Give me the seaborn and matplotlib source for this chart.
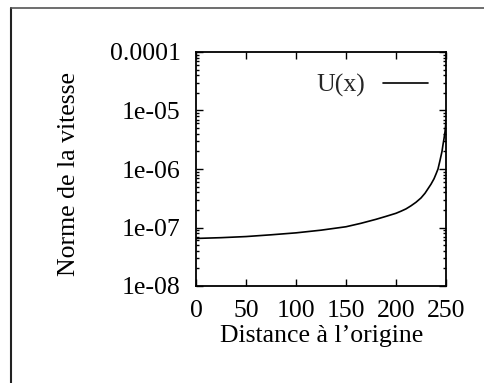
"""Recreate the 'Norme de la vitesse' log-scale profile figure."""

import matplotlib

matplotlib.use("Agg")
import matplotlib.pyplot as plt
import numpy as np
import pandas as pd
import seaborn as sns
from matplotlib.lines import Line2D
from matplotlib.ticker import FixedLocator, FixedFormatter, LogLocator, NullFormatter

# values
distance = [0, 25, 50, 75, 100, 125, 150, 165, 180, 190, 200, 205, 210, 215, 220, 225,
            229, 232, 235, 238, 240, 242, 244, 246, 247, 248, 249, 250]
vitesse = [6.5e-8, 6.7e-8, 7.0e-8, 7.5e-8, 8.1e-8, 9.0e-8, 1.03e-7, 1.18e-7, 1.38e-7,
           1.55e-7, 1.75e-7, 1.9e-7, 2.08e-7, 2.35e-7, 2.7e-7, 3.2e-7, 3.85e-7, 4.6e-7,
           5.5e-7, 6.8e-7, 8.2e-7, 1.0e-6, 1.4e-6, 2.0e-6, 2.6e-6, 3.3e-6, 4.3e-6, 6.5e-6]
x_ticks = [0, 50, 100, 150, 200, 250]
y_ticks = [1e-8, 1e-7, 1e-6, 1e-5, 1e-4]
y_tick_labels = ["1e-08", "1e-07", "1e-06", "1e-05", "0.0001"]
series_label = "U(x)"

sns.set_theme(style="ticks")
plt.rcParams["font.family"] = ["Liberation Serif", "DejaVu Serif"]

df = pd.DataFrame({"distance": distance, "vitesse": vitesse})

fig = plt.figure(figsize=(4.85, 3.83), dpi=100)
ax = fig.add_axes([196 / 485, 1 - 286 / 383, 250 / 485, 234 / 383])

sns.lineplot(data=df, x="distance", y="vitesse", ax=ax, color="black",
             linewidth=1.2, label=series_label)

ax.set_yscale("log")
ax.set_xlim(0, 250)
ax.set_ylim(1e-8, 1e-4)

ax.xaxis.set_major_locator(FixedLocator(x_ticks))
ax.yaxis.set_major_locator(FixedLocator(y_ticks))
ax.yaxis.set_major_formatter(FixedFormatter(y_tick_labels))
ax.yaxis.set_minor_locator(LogLocator(base=10, subs=np.arange(2, 10), numticks=20))
ax.yaxis.set_minor_formatter(NullFormatter())

ax.tick_params(which="both", direction="in", top=True, right=True,
               labelsize=18.5, colors="black", width=1.0)
ax.tick_params(which="major", length=5)
ax.tick_params(which="minor", length=2.5)
ax.tick_params(axis="x", pad=10)
ax.tick_params(axis="y", pad=11)

for side in ax.spines.values():
    side.set_visible(True)
    side.set_linewidth(1.3)
    side.set_color("black")

ax.set_xlabel("Distance à l’origine", fontsize=18.5, color="black")
ax.set_ylabel("Norme de la vitesse", fontsize=18.5, color="black")
ax.xaxis.set_label_coords(0.504, -0.165)
ax.yaxis.set_label_coords(-0.465, 0.48)

ax.legend(loc="upper right", bbox_to_anchor=(1.015, 1.0), frameon=False,
          markerfirst=False, fontsize=18.5, handlelength=1.75, handletextpad=0.7,
          borderaxespad=0.45)

# scanned page frame (left and top edges)
fig.add_artist(Line2D([11 / 485, 11 / 485], [0, 1 - 8 / 383], transform=fig.transFigure,
                      color="#222222", linewidth=1.5))
fig.add_artist(Line2D([11 / 485, 1], [1 - 8 / 383, 1 - 8 / 383], transform=fig.transFigure,
                      color="#555555", linewidth=1.2))

fig.savefig("out.png", dpi=100)
plt.close(fig)
